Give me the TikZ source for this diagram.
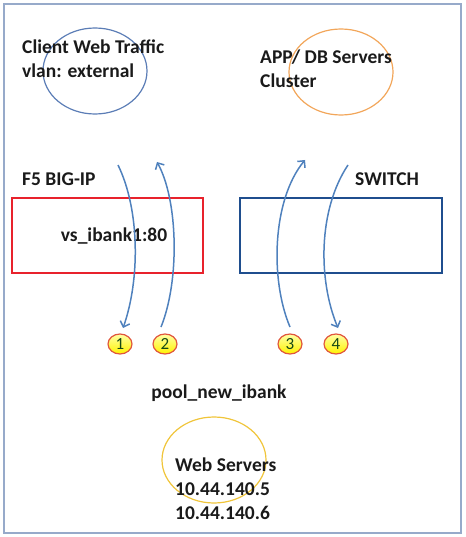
\documentclass[tikz,border=0pt]{standalone}
\usepackage{fontspec}
\setmainfont{Carlito}
\usepackage{xcolor}
\usetikzlibrary{arrows.meta, positioning, shapes.geometric}

\definecolor{framecol}{HTML}{97AACA}
\definecolor{textcol}{HTML}{1A1A1A}
\definecolor{ellblue}{HTML}{5B7DB6}
\definecolor{ellorange}{HTML}{F2A65A}
\definecolor{ellyellow}{HTML}{F0C53A}
\definecolor{boxred}{HTML}{E8222C}
\definecolor{boxblue}{HTML}{1F4E8E}
\definecolor{arrowcol}{HTML}{4F81BD}
\definecolor{numred}{HTML}{E0553C}

\tikzset{
  lbl/.style={font=\bfseries\fontsize{19.5}{24}\selectfont, text=textcol, inner sep=0pt, align=left},
  cloud/.style={ellipse, line width=1.2pt, minimum width=104pt, minimum height=86pt},
  device/.style={line width=2.5pt, minimum height=75pt},
  flow/.style={arrowcol, line width=1.5pt, -{Straight Barb[length=5pt,width=10pt]}},
  numbadge/.style={ellipse, draw=numred, line width=1.2pt, top color=yellow!35!white, bottom color=yellow!90!orange,
    minimum width=24pt, minimum height=20pt, inner sep=0pt, text=textcol!80!green, font=\fontsize{17}{17}\selectfont}
}

\begin{document}
\begin{tikzpicture}[x=1pt, y=-1pt]

	\useasboundingbox (0,0) rectangle (465,537);
	\draw[framecol, line width=1.5pt] (4,4) rectangle (461,533);

	% Client side
	\node[cloud, draw=ellblue] (clientcloud) at (95,71) {};
	\node[lbl, anchor=north west] (clienttxt) at (22,40) {Client Web Traffic\\vlan: external};

	% Server cluster
	\node[cloud, draw=ellorange] (appcloud) at (341,72) {};
	\node[lbl, anchor=north west] (apptxt) at (260,50) {APP/ DB Servers\\Cluster};

	% F5 box
	\node[lbl, anchor=west] (f5txt) at (22,179) {F5 BIG-IP};
	\node[device, draw=boxred, minimum width=191pt] (bigipbox) at (107.5,235.5) {};
	\node[lbl] (vstxt) at (114,236) {vs\_ibank1:80};

	% Switch box
	\node[lbl, anchor=west] (switchtxt) at (355,179) {SWITCH};
	\node[device, draw=boxblue, minimum width=202pt] (switchbox) at (341,235.5) {};

	% Flow arrows
	\coordinate (flowAs) at (118,165);
	\coordinate (flowAe) at (123,328);
	\coordinate (flowBs) at (161,327);
	\coordinate (flowBe) at (157,162);
	\coordinate (flowCs) at (290,327);
	\coordinate (flowCe) at (305,160);
	\coordinate (flowDs) at (348,165);
	\coordinate (flowDe) at (338,328);
	\draw[flow] (flowAs) .. controls (140,210) and (140,280) .. (flowAe);
	\draw[flow] (flowBs) .. controls (180,280) and (178,200) .. (flowBe);
	\draw[flow] (flowCs) .. controls (270,280) and (272,200) .. (flowCe);
	\draw[flow] (flowDs) .. controls (318,210) and (318,280) .. (flowDe);

	% Step numbers
	\foreach \n/\x in {1/120, 2/165, 3/290, 4/336}
		\node[numbadge] (step\n) at (\x,344) {\n};

	% Pool
	\node[lbl] (pooltxt) at (219,393) {pool\_new\_ibank};
	\node[cloud, draw=ellyellow] (webcloud) at (214,460) {};
	\node[lbl, anchor=north west] (webtxt) at (175,458) {Web Servers\\10.44.140.5\\10.44.140.6};

\end{tikzpicture}
\end{document}
